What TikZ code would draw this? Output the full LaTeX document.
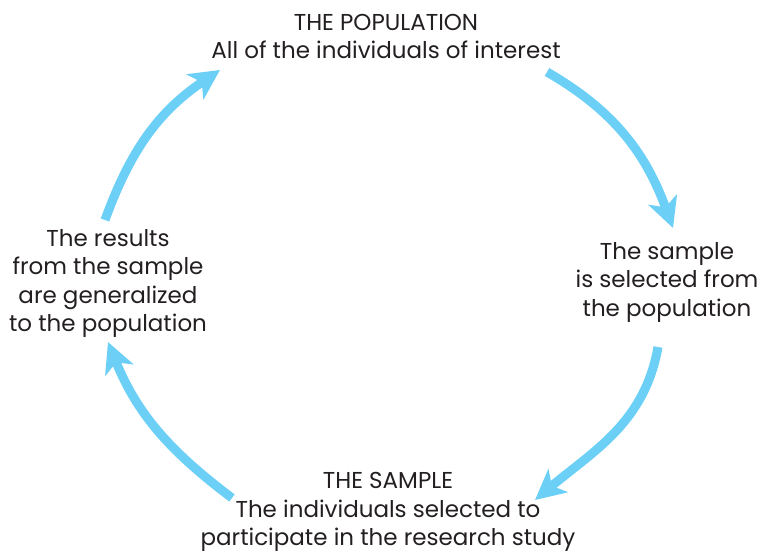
\documentclass[tikz,border=0pt]{standalone}
\usepackage{fontspec}
\setmainfont{Poppins}
\usetikzlibrary{arrows.meta}
\definecolor{arrowblue}{HTML}{6CCFF6}
\definecolor{txt}{HTML}{231F20}
\begin{document}
\begin{tikzpicture}[x=1pt,y=1pt,
  lbl/.style={align=center,text=txt,font=\fontsize{23}{28.5}\selectfont,inner sep=0pt},
  flow/.style={draw=arrowblue,line width=9pt,-{Stealth[length=30pt,width=30pt,inset=8pt]}}]
\useasboundingbox (0,0) rectangle (760,555);
\node[lbl] (pop) at (386,518.5) {THE POPULATION\\All of the individuals of interest};
\node[lbl] (res) at (108,271.5) {The results\\from the sample\\are generalized\\to the population};
\node[lbl] (sel) at (667,273) {The sample\\is selected from\\the population};
\node[lbl] (smp) at (388,43) {THE SAMPLE\\The individuals selected to\\participate in the research study};
\coordinate (a1s) at (547,483); \coordinate (a1e) at (673,327);
\coordinate (a2s) at (658,208); \coordinate (a2e) at (535,55);
\coordinate (a3s) at (232,57);  \coordinate (a3e) at (108,213);
\coordinate (a4s) at (105,335); \coordinate (a4e) at (220,485);
\draw[flow] (a1s) to[out=-30,in=110] (a1e);
\draw[flow] (a2s) to[out=-100,in=40] (a2e);
\draw[flow] (a3s) to[out=143,in=-68] (a3e);
\draw[flow] (a4s) to[out=70,in=-146] (a4e);
\end{tikzpicture}
\end{document}
